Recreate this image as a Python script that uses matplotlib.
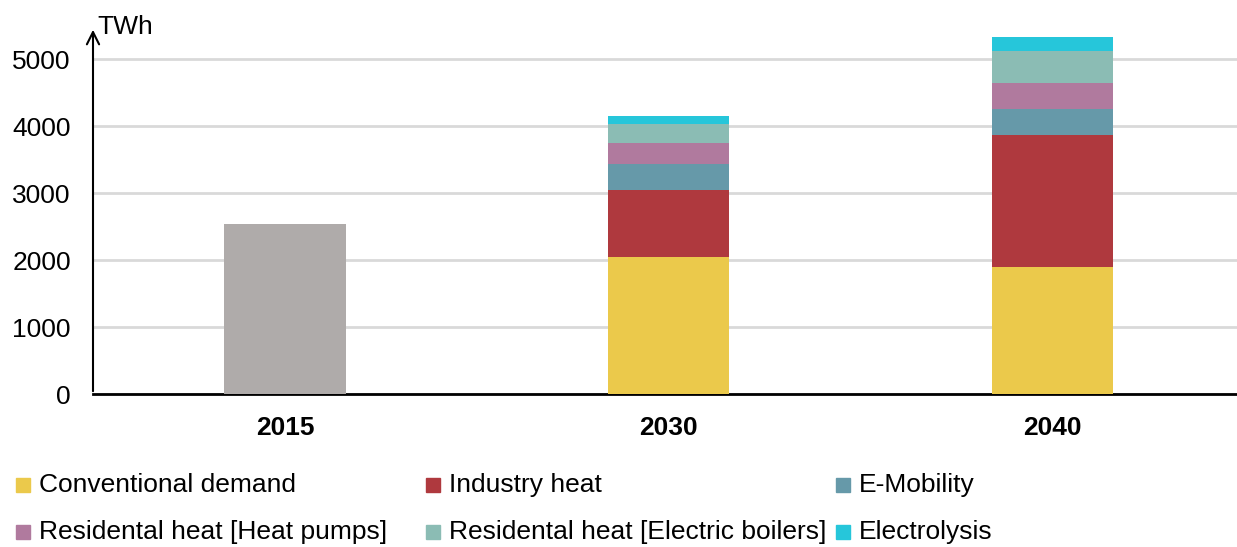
import numpy as np
import matplotlib.pyplot as plt
from matplotlib.patches import Rectangle

plt.rcParams['font.family'] = ['Liberation Sans', 'DejaVu Sans']

years = ['2015', '2030', '2040']
today = [2540, 0, 0]
conventional = [0, 2045, 1891]
industry = [0, 1004, 1975]
emobility = [0, 384, 388]
heatpumps = [0, 309, 392]
boilers = [0, 288, 473]
electrolysis = [0, 119, 205]

names = ['Conventional demand', 'Industry heat', 'E-Mobility',
         'Residental heat [Heat pumps]', 'Residental heat [Electric boilers]', 'Electrolysis']
series = [conventional, industry, emobility, heatpumps, boilers, electrolysis]
colors = ['#EBC94B', '#AF393E', '#6699A9', '#B07A9E', '#8BBCB4', '#26C6DA']

fig = plt.figure(figsize=(12.37, 5.47), dpi=100)
ax = fig.add_axes([93/1237, 1-394/547, (1237-93)/1237, (394-27)/547])

x = np.arange(len(years))
w = 0.316
ax.bar(x, today, w, color='#AFABAA', zorder=3)
bottom = np.zeros(len(years))
for s, c in zip(series, colors):
    ax.bar(x, s, w, bottom=bottom, color=c, zorder=3)
    bottom += np.array(s)

ax.set_xlim(-0.5, 2.48)
ax.set_ylim(0, 5478)
ax.set_yticks(range(0, 5001, 1000))
ax.set_xticks(x)
ax.set_xticklabels(years, fontsize=19, fontweight='bold')
ax.tick_params(axis='y', labelsize=19, length=0, pad=16)
ax.tick_params(axis='x', length=0, pad=16)
ax.grid(axis='y', color='#D9D9D9', linewidth=2, zorder=0)
for sp in ['top', 'right', 'left']:
    ax.spines[sp].set_visible(False)
ax.spines['bottom'].set_linewidth(2)
ax.annotate('', xy=(-0.5, 5478), xytext=(-0.5, 0),
            arrowprops=dict(arrowstyle='->', lw=1.5, color='black', mutation_scale=22),
            annotation_clip=False)
fig.text(97/1237, 1-27/547, 'TWh', fontsize=19, va='center', ha='left')

# legend drawn by hand to match column positions
lx = [16, 426, 836]
ly = [485, 532]
for i, (n, c) in enumerate(zip(names, colors)):
    px = lx[i % 3]
    py = ly[i // 3]
    fig.patches.append(Rectangle((px/1237, 1-(py+7)/547), 14/1237, 14/547,
                                 transform=fig.transFigure, color=c))
    fig.text((px+23)/1237, 1-py/547, n, fontsize=19, va='center', ha='left')

fig.savefig('out.png')
